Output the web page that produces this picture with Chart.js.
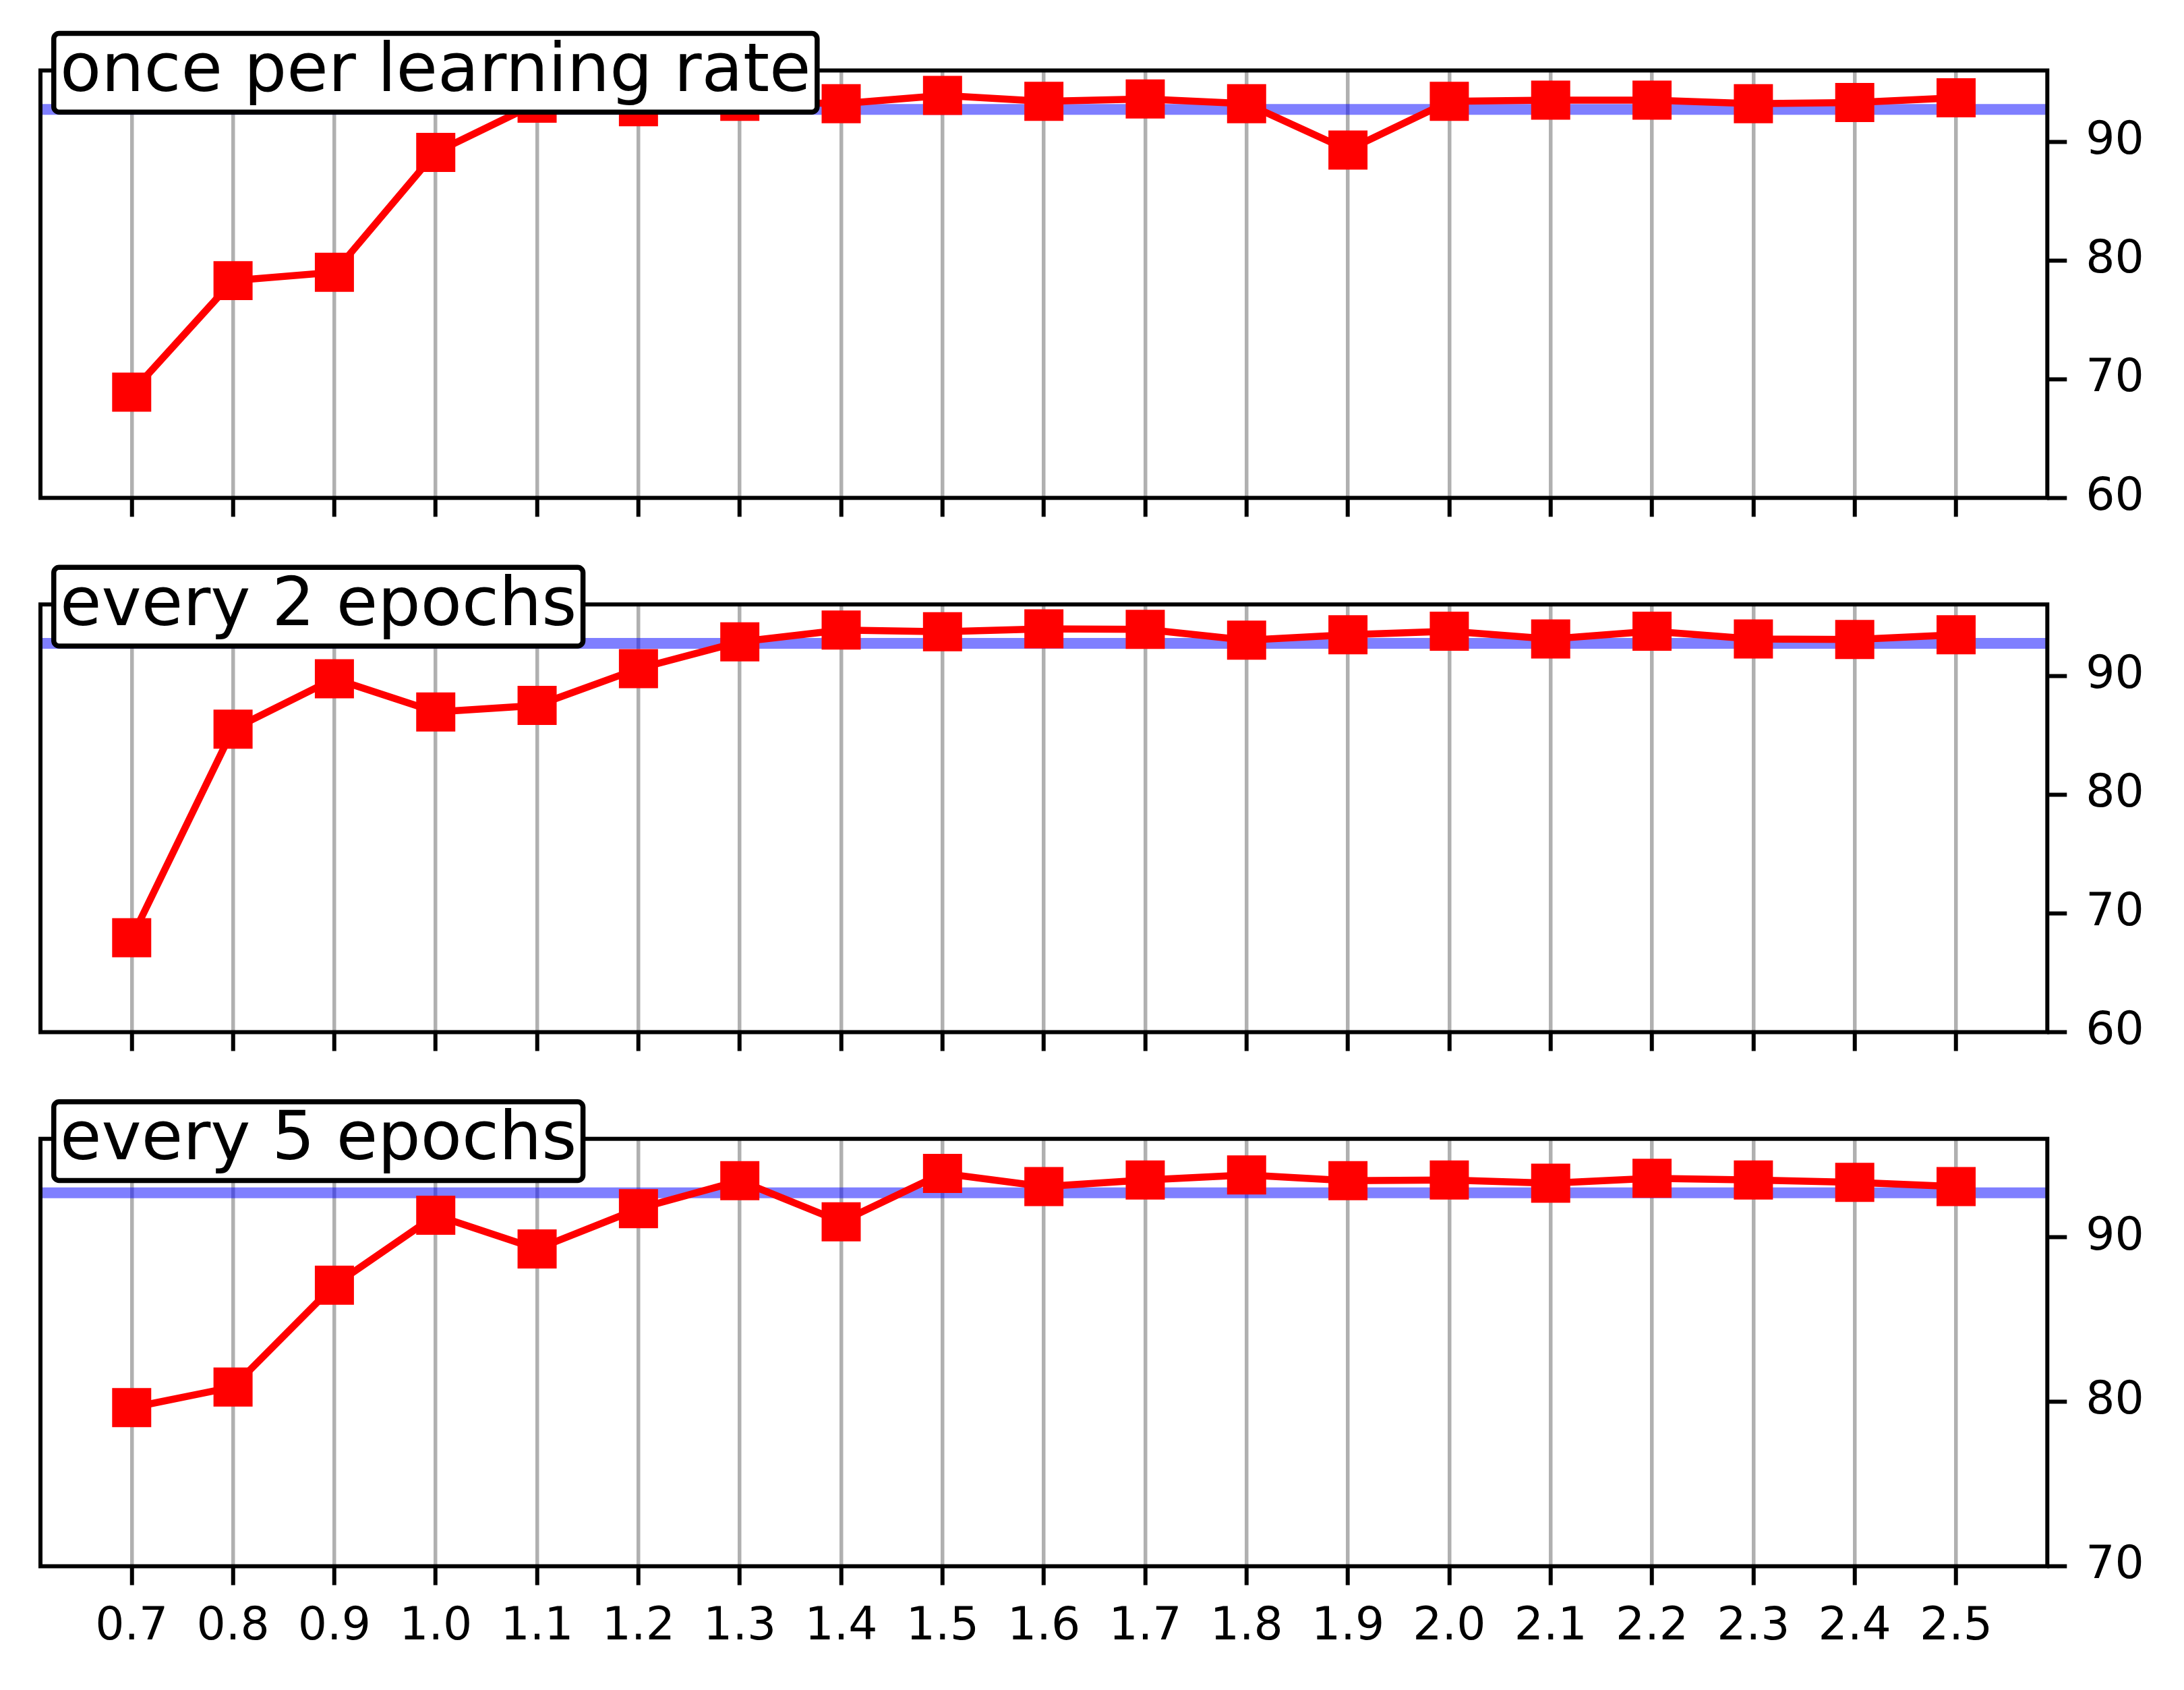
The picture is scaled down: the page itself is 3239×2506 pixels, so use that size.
<!DOCTYPE html>
<html><head><meta charset="utf-8">
<script src="https://cdn.jsdelivr.net/npm/chart.js@4.4.1/dist/chart.umd.min.js"></script>
<style>
html,body{margin:0;padding:0;background:#fff;}
#wrap{position:relative;width:3239px;height:2506px;background:#fff;overflow:hidden;}
canvas{position:absolute;left:0;top:0;}
</style></head><body>
<div id="wrap">
<canvas id="c1" width="3239" height="2506"></canvas>
<canvas id="c2" width="3239" height="2506"></canvas>
<canvas id="c3" width="3239" height="2506"></canvas>
</div>
<script>
// ---------- data ----------
const learningRates = [0.7, 0.8, 0.9, 1.0, 1.1, 1.2, 1.3, 1.4, 1.5, 1.6, 1.7, 1.8, 1.9, 2.0, 2.1, 2.2, 2.3, 2.4, 2.5];
const xTickLabels = ['0.7','0.8','0.9','1.0','1.1','1.2','1.3','1.4','1.5','1.6','1.7','1.8','1.9','2.0','2.1','2.2','2.3','2.4','2.5'];
const oncePerLR    = [68.9, 78.3, 79.0, 89.1, 93.25, 92.95, 93.4, 93.2, 93.9, 93.4, 93.6, 93.2, 89.3, 93.4, 93.5, 93.5, 93.2, 93.3, 93.7];
const every2Epochs = [67.95, 85.5, 89.75, 86.95, 87.5, 90.6, 92.85, 93.85, 93.7, 93.95, 93.9, 93.0, 93.45, 93.75, 93.1, 93.75, 93.1, 93.05, 93.45];
const every5Epochs = [79.65, 80.9, 87.1, 91.35, 89.3, 91.75, 93.45, 90.95, 93.9, 93.1, 93.5, 93.8, 93.45, 93.5, 93.3, 93.6, 93.5, 93.35, 93.1];
const baselineAccuracy = 92.72;
const panelTitles = ['once per learning rate', 'every 2 epochs', 'every 5 epochs'];
const yTicksTop = [60, 70, 80, 90];
const yTicksMiddle = [60, 70, 80, 90];
const yTicksBottom = [70, 80, 90];
const yMinTop = 60, yMinMiddle = 60, yMinBottom = 70, yMaxAll = 96;
const xMin = 0.61, xMax = 2.59;

// ---------- layout ----------
const W = 3239, H = 2506;
const AREA_LEFT = 60, AREA_RIGHT = 3036.3;
const X_AXIS_H = 150;
const panels = [
  {id:'c1', top:104.5, bottom:738.3, data:oncePerLR, yTicks:yTicksTop, yMin:yMinTop, title:panelTitles[0], showX:false},
  {id:'c2', top:896.3, bottom:1530.5, data:every2Epochs, yTicks:yTicksMiddle, yMin:yMinMiddle, title:panelTitles[1], showX:false},
  {id:'c3', top:1688.7, bottom:2322.5, data:every5Epochs, yTicks:yTicksBottom, yMin:yMinBottom, title:panelTitles[2], showX:true}
];

Chart.defaults.font.family = '"DejaVu Sans", sans-serif';
Chart.defaults.color = '#000';

const framePlugin = {
  id: 'frame',
  afterDatasetsDraw(chart) {
    const {ctx, chartArea: a} = chart;
    ctx.save();
    ctx.strokeStyle = '#000';
    ctx.lineWidth = 6;
    ctx.lineJoin = 'miter';
    ctx.strokeRect(a.left, a.top, a.right - a.left, a.bottom - a.top);
    ctx.restore();
  }
};

const titleBoxPlugin = {
  id: 'titleBox',
  afterDraw(chart, args, opts) {
    const {ctx, chartArea: a} = chart;
    ctx.save();
    ctx.font = '100px "DejaVu Sans"';
    const tw = ctx.measureText(opts.text).width;
    const tx = 89, base = a.top + 30.5;
    const bx = tx - 9.25, bw = tw + 18.5;
    const by = a.top - 55, bh = 116.7;
    const r = 8;
    ctx.beginPath();
    ctx.moveTo(bx + r, by);
    ctx.lineTo(bx + bw - r, by);
    ctx.arcTo(bx + bw, by, bx + bw, by + r, r);
    ctx.lineTo(bx + bw, by + bh - r);
    ctx.arcTo(bx + bw, by + bh, bx + bw - r, by + bh, r);
    ctx.lineTo(bx + r, by + bh);
    ctx.arcTo(bx, by + bh, bx, by + bh - r, r);
    ctx.lineTo(bx, by + r);
    ctx.arcTo(bx, by, bx + r, by, r);
    ctx.closePath();
    ctx.fillStyle = '#fff';
    ctx.fill();
    ctx.lineWidth = 7.5;
    ctx.strokeStyle = '#000';
    ctx.stroke();
    ctx.fillStyle = '#000';
    ctx.textBaseline = 'alphabetic';
    ctx.textAlign = 'left';
    ctx.fillText(opts.text, tx, base);
    ctx.restore();
  }
};

panels.forEach(p => {
  const points = learningRates.map((x, i) => ({x: x, y: p.data[i]}));
  new Chart(document.getElementById(p.id), {
    type: 'line',
    data: {
      datasets: [
        {
          data: points,
          borderColor: '#ff0000',
          backgroundColor: '#ff0000',
          borderWidth: 10.5,
          borderJoinStyle: 'miter',
          pointStyle: 'rect',
          pointRadius: 41,
          pointBackgroundColor: '#ff0000',
          pointBorderWidth: 0,
          tension: 0,
          fill: false,
          clip: false
        },
        {
          data: [{x: xMin, y: baselineAccuracy}, {x: xMax, y: baselineAccuracy}],
          borderColor: 'rgba(0,0,255,0.5)',
          borderWidth: 16,
          pointRadius: 0,
          tension: 0,
          fill: false
        }
      ]
    },
    options: {
      responsive: false,
      animation: false,
      devicePixelRatio: 1,
      events: [],
      layout: {padding: {left: AREA_LEFT, right: 0, top: p.top, bottom: H - p.bottom - X_AXIS_H}},
      plugins: {legend: {display: false}, tooltip: {enabled: false}, titleBox: {text: p.title}},
      scales: {
        x: {
          type: 'linear',
          position: 'bottom',
          min: xMin, max: xMax,
          afterBuildTicks: axis => { axis.ticks = learningRates.map(v => ({value: v})); },
          afterFit: axis => { axis.height = X_AXIS_H; },
          ticks: {
            autoSkip: false, maxRotation: 0, minRotation: 0,
            padding: 22,
            font: {size: 68},
            color: '#000',
            callback: (v) => p.showX ? xTickLabels[learningRates.indexOf(v)] : ''
          },
          grid: {
            display: true, drawOnChartArea: true, drawTicks: true,
            color: '#b0b0b0', lineWidth: 5.5,
            tickLength: 28, tickColor: '#000', tickWidth: 6
          },
          border: {display: false}
        },
        y: {
          type: 'linear',
          position: 'right',
          min: p.yMin, max: yMaxAll,
          afterBuildTicks: axis => { axis.ticks = p.yTicks.map(v => ({value: v})); },
          afterFit: axis => { axis.width = W - AREA_RIGHT; },
          ticks: {padding: 28, font: {size: 68}, color: '#000'},
          grid: {
            display: true, drawOnChartArea: false, drawTicks: true,
            tickLength: 29, tickColor: '#000', tickWidth: 6
          },
          border: {display: false}
        }
      }
    },
    plugins: [framePlugin, titleBoxPlugin]
  });
});
</script>
</body></html>
